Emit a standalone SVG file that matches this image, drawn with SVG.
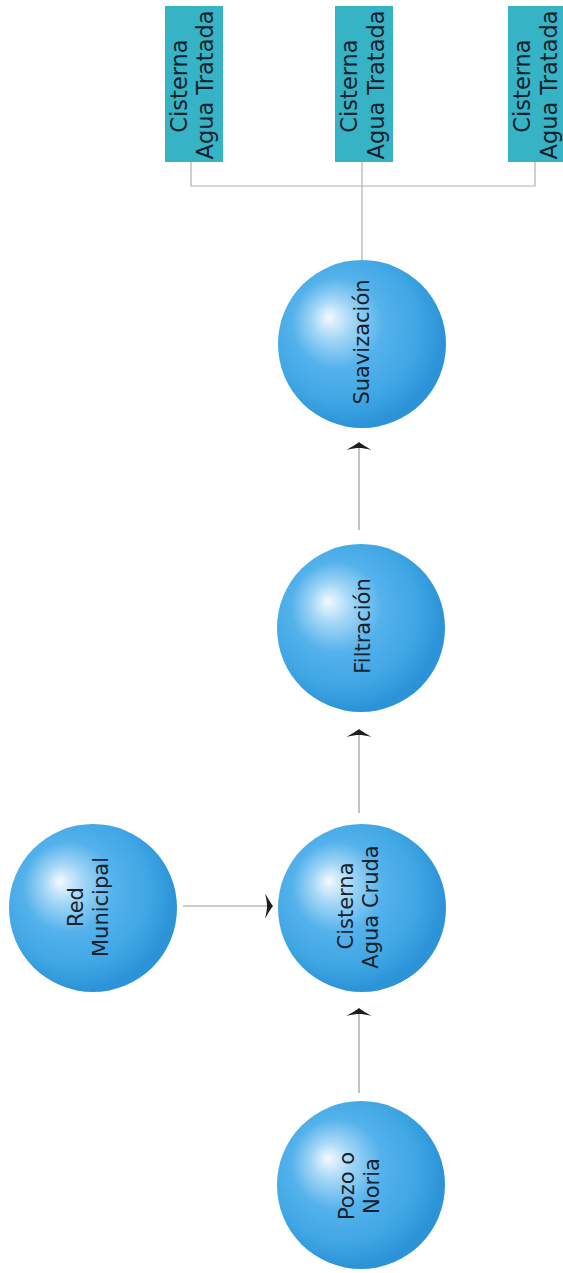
<svg xmlns="http://www.w3.org/2000/svg" width="563" height="1273" viewBox="0 0 563 1273">
<style>
.lbl{font-family:"DejaVu Sans","Liberation Sans",sans-serif;font-size:21px;fill:#18212c;text-anchor:middle}
.bl{font-size:22.5px}
.sph{fill:url(#sg)}
.box{fill:#36b3c4}
.ln{stroke:#9a9a9a;stroke-width:1.2;fill:none}
.br{stroke:#b0b0b0;stroke-width:1.2;fill:none}
</style>
<defs>
<radialGradient id="sg" cx="0.42" cy="0.42" r="0.6" fx="0.3" fy="0.34">
<stop offset="0" stop-color="#f2faff"/>
<stop offset="0.2" stop-color="#a2d6f6"/>
<stop offset="0.45" stop-color="#54b2eb"/>
<stop offset="0.75" stop-color="#3fa6e4"/>
<stop offset="0.95" stop-color="#2c93d8"/>
</radialGradient>
<marker id="ah" markerUnits="userSpaceOnUse" markerWidth="12" markerHeight="28" viewBox="-9 -14 11 28" refX="0" refY="0" orient="auto" overflow="visible">
<path d="M1,0 C-1,-2 -4,-8 -7,-12.5 C-5.5,-7 -5,-3 -5,0 C-5,3 -5.5,7 -7,12.5 C-4,8 -1,2 1,0 Z" fill="#1e1e1e"/>
</marker>
</defs>
<rect width="563" height="1273" fill="#ffffff"/>
<g id="connectors">
<line class="ln" x1="359" y1="1093" x2="359" y2="1009" marker-end="url(#ah)"/>
<line class="ln" x1="359" y1="813" x2="359" y2="730" marker-end="url(#ah)"/>
<line class="ln" x1="359" y1="530" x2="359" y2="443" marker-end="url(#ah)"/>
<line class="ln" x1="183" y1="906" x2="272" y2="906" marker-end="url(#ah)"/>
<path class="br" d="M362,260 V162 M191,162 V186 H535 V162"/>
</g>
<g id="tank1">
<rect class="box" x="165" y="6" width="58" height="156"/>
<text class="lbl bl" transform="translate(187,86) rotate(-90)">Cisterna</text>
<text class="lbl bl" transform="translate(213,85) rotate(-90)">Agua Tratada</text>
</g>
<g id="tank2">
<rect class="box" x="335" y="6" width="58" height="156"/>
<text class="lbl bl" transform="translate(357,86) rotate(-90)">Cisterna</text>
<text class="lbl bl" transform="translate(384,85) rotate(-90)">Agua Tratada</text>
</g>
<g id="tank3">
<rect class="box" x="508" y="6" width="60" height="156"/>
<text class="lbl bl" transform="translate(530,86) rotate(-90)">Cisterna</text>
<text class="lbl bl" transform="translate(557,85) rotate(-90)">Agua Tratada</text>
</g>
<g id="suavizacion">
<circle class="sph" cx="362" cy="344" r="84"/>
<text class="lbl" transform="translate(369,342) rotate(-90)">Suavización</text>
</g>
<g id="filtracion">
<circle class="sph" cx="361" cy="628" r="84"/>
<text class="lbl" transform="translate(370,626) rotate(-90)">Filtración</text>
</g>
<g id="cisterna-cruda">
<circle class="sph" cx="362" cy="908" r="84"/>
<text class="lbl" transform="translate(353,906) rotate(-90)">Cisterna</text>
<text class="lbl" transform="translate(378,907) rotate(-90)">Agua Cruda</text>
</g>
<g id="red-municipal">
<circle class="sph" cx="93" cy="908" r="84"/>
<text class="lbl" transform="translate(83,907) rotate(-90)">Red</text>
<text class="lbl" transform="translate(108,907) rotate(-90)">Municipal</text>
</g>
<g id="pozo">
<circle class="sph" cx="361" cy="1185" r="84"/>
<text class="lbl" transform="translate(354,1186) rotate(-90)">Pozo o</text>
<text class="lbl" transform="translate(379,1186) rotate(-90)">Noria</text>
</g>
</svg>
